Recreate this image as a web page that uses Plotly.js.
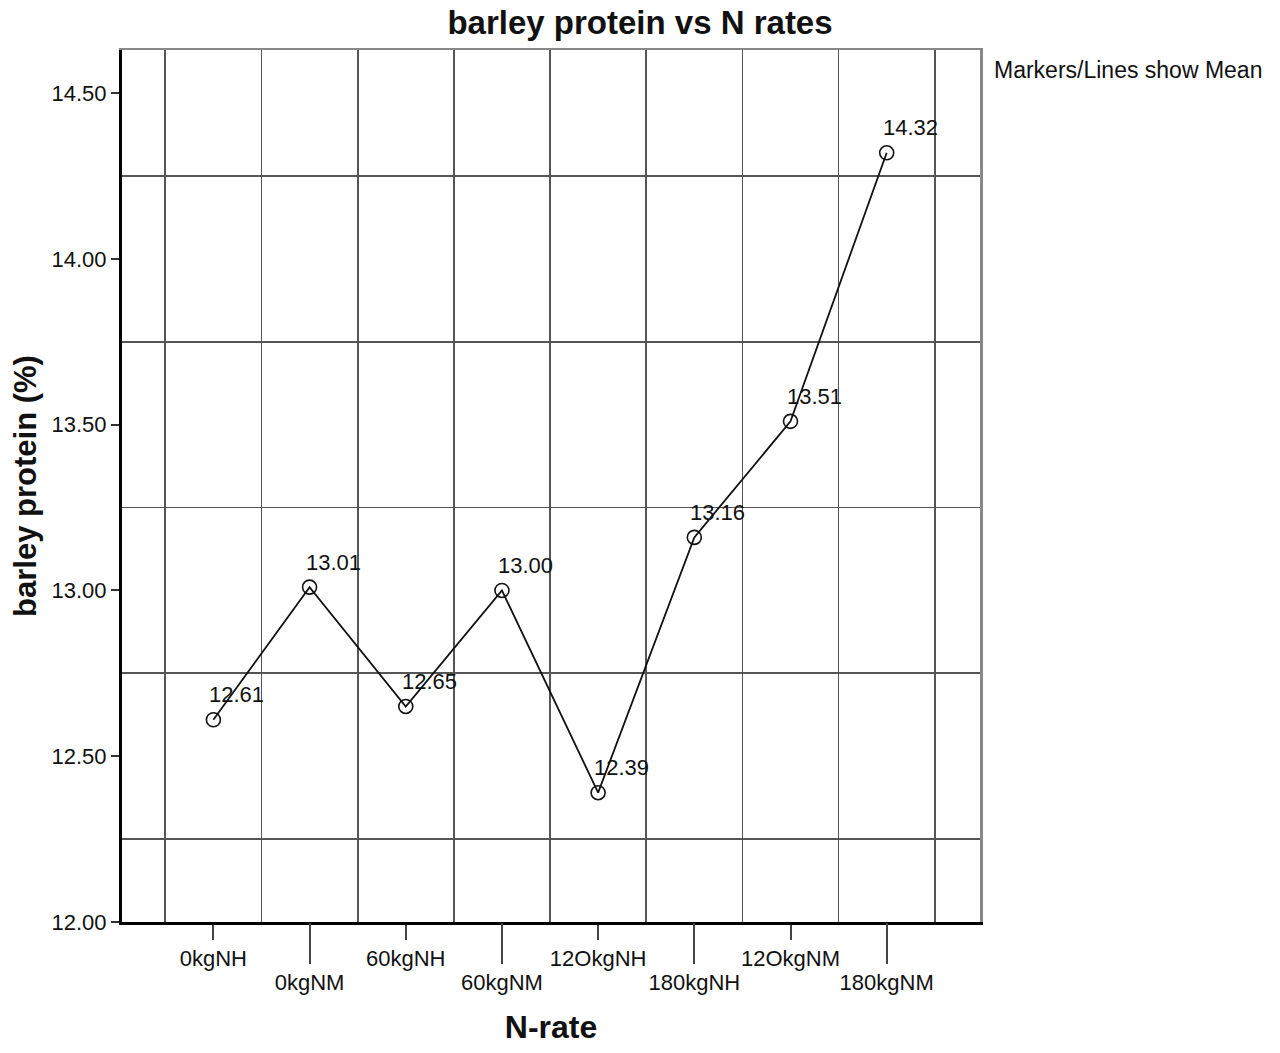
<!DOCTYPE html>
<html>
<head>
<meta charset="utf-8">
<script src="https://cdn.plot.ly/plotly-3.0.1.min.js"></script>
<style>
  html, body { margin: 0; padding: 0; background: #fff; }
  #chart { width: 1280px; height: 1053px; }
</style>
</head>
<body>
<div id="chart"></div>
<script>
// N-rate treatments and mean barley protein (%)
var categories = ['0kgNH', '0kgNM', '60kgNH', '60kgNM', '12OkgNH', '180kgNH', '12OkgNM', '180kgNM'];
var protein = [12.61, 13.01, 12.65, 13.00, 12.39, 13.16, 13.51, 14.32];
var proteinLabels = ['12.61', '13.01', '12.65', '13.00', '12.39', '13.16', '13.51', '14.32'];
var yTicks = [12.00, 12.50, 13.00, 13.50, 14.00, 14.50];
var yGrid = [12.25, 12.75, 13.25, 13.75, 14.25];

var FONT = 'Liberation Sans, Arial, sans-serif';
var idx = categories.map(function(c, i) { return i; });
var evenIdx = idx.filter(function(i) { return i % 2 === 0; });
var oddIdx = idx.filter(function(i) { return i % 2 === 1; });
var xGrid = [-0.5].concat(idx.map(function(i) { return i + 0.5; }));
var xRange = [-0.95, 7.97];
var yRange = [12.0, 14.63];

// mean line with open circle markers
var trace_mean = {
    x: idx,
    y: protein,
    mode: 'lines+markers',
    line: { color: '#111', width: 1.8 },
    marker: { symbol: 'circle-open', size: 14, color: '#111', line: { width: 1.6 } },
    hoverinfo: 'x+y',
    showlegend: false
};

// carrier traces so the overlay axes get drawn
function carrier(xa, ya) {
    return { x: xRange, y: yRange, xaxis: xa, yaxis: ya, mode: 'none', hoverinfo: 'skip', showlegend: false };
}

var data = [carrier('x3', 'y2'), carrier('x2', 'y'), trace_mean];

// value labels up and to the right of each marker
var valueLabels = idx.map(function(i) {
    return {
        x: i, y: protein[i], xref: 'x', yref: 'y',
        text: proteinLabels[i],
        xanchor: 'left', yanchor: 'middle',
        xshift: -6, yshift: 25,
        showarrow: false,
        font: { family: FONT, size: 22, color: '#111' }
    };
});

var layout = {
    width: 1280,
    height: 1053,
    paper_bgcolor: '#fff',
    plot_bgcolor: '#fff',
    font: { family: FONT, color: '#111' },
    margin: { l: 122, r: 300, t: 50, b: 131 },
    title: {
        text: '<b>barley protein vs N rates</b>',
        font: { family: FONT, size: 33, color: '#111' },
        x: 0.5, xref: 'container', y: 0.979, yanchor: 'middle'
    },
    xaxis: {
        range: xRange,
        tickmode: 'array',
        tickvals: evenIdx,
        ticktext: evenIdx.map(function(i) { return categories[i]; }),
        ticks: 'outside', ticklen: 15, tickwidth: 2, tickcolor: '#444',
        tickfont: { family: FONT, size: 22, color: '#111' },
        showline: true, linecolor: '#000', linewidth: 3,
        showgrid: false, zeroline: false,
        title: { text: '<b>N-rate</b>', font: { family: FONT, size: 32, color: '#111' }, standoff: 46 }
    },
    xaxis2: {
        overlaying: 'x',
        side: 'bottom',
        range: xRange,
        tickmode: 'array',
        tickvals: oddIdx,
        ticktext: oddIdx.map(function(i) { return categories[i]; }),
        ticks: 'outside', ticklen: 41, tickwidth: 2, tickcolor: '#444',
        tickfont: { family: FONT, size: 22, color: '#111' },
        showline: false, showgrid: false, zeroline: false
    },
    xaxis3: {
        overlaying: 'x',
        side: 'top',
        range: xRange,
        tickmode: 'array',
        tickvals: xGrid,
        ticks: '', showticklabels: false,
        showgrid: true, gridcolor: '#555', gridwidth: 1.8,
        showline: true, linecolor: '#888', linewidth: 2.5,
        zeroline: false
    },
    yaxis: {
        range: yRange,
        tickmode: 'array',
        tickvals: yTicks,
        ticktext: yTicks.map(function(v) { return v.toFixed(2); }),
        ticks: 'outside', ticklen: 8, tickwidth: 2, tickcolor: '#333',
        tickfont: { family: FONT, size: 22, color: '#111' },
        showline: true, linecolor: '#000', linewidth: 3,
        showgrid: false, zeroline: false,
        title: { text: '<b>barley protein (%)</b>', font: { family: FONT, size: 31, color: '#111' }, standoff: 6 }
    },
    yaxis2: {
        overlaying: 'y',
        side: 'right',
        range: yRange,
        tickmode: 'array',
        tickvals: yGrid,
        ticks: '', showticklabels: false,
        showgrid: true, gridcolor: '#555', gridwidth: 1.8,
        showline: true, linecolor: '#888', linewidth: 2.5,
        zeroline: false
    },
    annotations: [{
        text: 'Markers/Lines show Mean',
        xref: 'paper', yref: 'paper',
        x: 1, y: 1,
        xanchor: 'left', yanchor: 'top',
        xshift: 12, yshift: -5,
        showarrow: false,
        font: { family: FONT, size: 23, color: '#111' }
    }].concat(valueLabels)
};

Plotly.newPlot('chart', data, layout, { displayModeBar: false, staticPlot: true });
</script>
</body>
</html>
